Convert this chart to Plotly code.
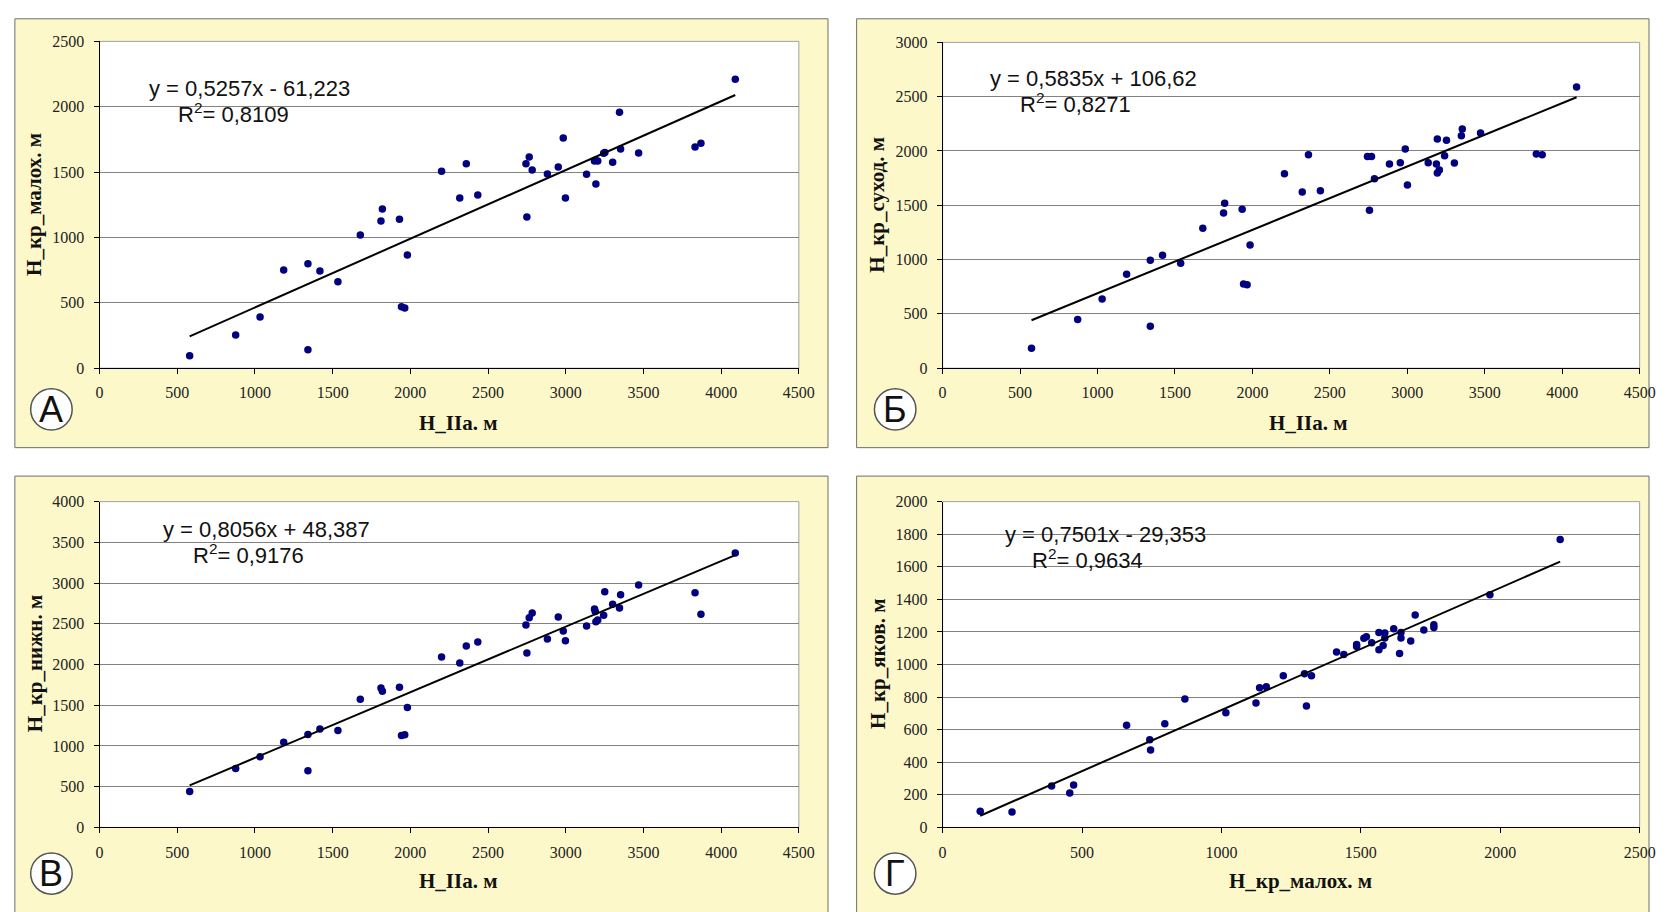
import plotly.graph_objects as go

# ---------------- data ----------------
# Panel А: H_IIa (x) vs H_кр_малох (y)
x_A = [580, 876, 1033, 1185, 1341, 1341, 1418, 1534, 1678, 1811, 1820, 1930, 1943, 1964, 1981, 2201,
       2318, 2360, 2434, 2744, 2765, 2784, 2750, 2882, 2952, 2984, 2998, 3134, 3185, 3190, 3206, 3194,
       3244, 3252, 3302, 3346, 3353, 3469, 3832, 3870, 4091]
y_A = [95, 254, 392, 751, 798, 140, 743, 661, 1018, 1125, 1217, 1140, 469, 461, 865, 1506,
       1302, 1564, 1324, 1564, 1616, 1516, 1157, 1486, 1539, 1761, 1302, 1484, 1584, 1590, 1584, 1409,
       1644, 1650, 1576, 1958, 1676, 1646, 1691, 1721, 2210]

# Panel Б: H_IIa (x) vs H_кр_суход (y)
x_B = [574, 872, 1030, 1188, 1341, 1341, 1420, 1537, 1680, 1814, 1821, 1934, 1943, 1966, 1985, 2207,
       2322, 2362, 2439, 2743, 2769, 2756, 2788, 2885, 2955, 2987, 3001, 3135, 3194, 3188, 3194, 3207,
       3241, 3253, 3304, 3349, 3355, 3473, 3833, 3871, 4093]
y_B = [184, 449, 636, 864, 994, 386, 1039, 967, 1289, 1428, 1518, 1464, 774, 768, 1133, 1789,
       1623, 1964, 1633, 1949, 1949, 1455, 1744, 1879, 1892, 2018, 1687, 1892, 2111, 1879, 1798, 1825,
       1955, 2099, 1889, 2139, 2202, 2166, 1973, 1964, 2590]

# Panel В: H_IIa (x) vs H_кр_нижн (y)
x_V = [580, 876, 1033, 1185, 1341, 1341, 1418, 1534, 1678, 1811, 1820, 1930, 1943, 1964, 1981, 2201,
       2318, 2360, 2434, 2744, 2765, 2784, 2750, 2882, 2952, 2984, 2998, 3134, 3185, 3190, 3194, 3206,
       3244, 3251, 3302, 3346, 3353, 3469, 3832, 3870, 4091]
y_V = [442, 724, 869, 1046, 1142, 696, 1207, 1190, 1573, 1713, 1673, 1721, 1130, 1138, 1472, 2091,
       2019, 2228, 2276, 2486, 2574, 2634, 2140, 2313, 2582, 2413, 2293, 2474, 2683, 2650, 2526, 2546,
       2606, 2892, 2739, 2695, 2856, 2976, 2880, 2618, 3370]

# Panel Г: H_кр_малох (x) vs H_кр_яков (y)
x_G = [135, 249, 391, 456, 470, 660, 743, 746, 797, 869, 1016, 1124, 1137, 1161, 1222, 1298,
       1323, 1305, 1413, 1439, 1485, 1485, 1511, 1520, 1539, 1565, 1565, 1580, 1586, 1586, 1618,
       1644, 1644, 1639, 1679, 1695, 1726, 1762, 1762, 1963, 2215]
y_G = [100, 94, 255, 211, 261, 628, 538, 475, 636, 788, 704, 764, 857, 863, 931, 943,
       931, 746, 1077, 1061, 1111, 1123, 1161, 1170, 1133, 1196, 1091, 1117, 1194, 1163, 1220,
       1196, 1163, 1067, 1145, 1304, 1212, 1244, 1228, 1428, 1767]

slopes = [0.5257, 0.5835, 0.8056, 0.7501]
intercepts = [-61.223, 106.62, 48.387, -29.353]
equations = ["y = 0,5257x - 61,223", "y = 0,5835x + 106,62", "y = 0,8056x + 48,387", "y = 0,7501x - 29,353"]
r2_labels = ["R<sup>2</sup>= 0,8109", "R<sup>2</sup>= 0,8271", "R<sup>2</sup>= 0,9176", "R<sup>2</sup>= 0,9634"]
x_titles = ["H_IIa. м", "H_IIa. м", "H_IIa. м", "H_кр_малох. м"]
y_titles = ["H_кр_малох. м", "H_кр_суход. м", "H_кр_нижн. м", "H_кр_яков. м"]
panel_letters = ["А", "Б", "В", "Г"]
x_ranges = [4500, 4500, 4500, 2500]
y_ranges = [2500, 3000, 4000, 2000]
y_dticks = [500, 500, 500, 200]

# ---------------- layout helpers ----------------
W, H = 1666, 912
def px(x):
    return x / W
def py(y):
    return 1 - y / H

# plot-area pixel boxes (left, right, top, bottom)
plot_boxes = [(96.7, 804.5, 34, 367), (950, 1655.5, 35, 367),
              (96.7, 804.5, 503, 835), (950, 1655.5, 503, 835)]
panel_boxes = [(11, 11, 834, 448), (863, 11, 1665, 448),
               (11, 477, 834, 930), (863, 477, 1665, 930)]
eq_pos = [(145, 82, 174, 107), (996, 72, 1026, 97),
          (159, 531, 189, 556), (1011, 536, 1038, 561)]
xtitle_pos = [(460, 423), (1320, 423), (460, 890), (1312, 890)]
ytitle_pos = [(31, 200), (884, 200), (31, 668), (884, 668)]
circle_pos = [(48, 409), (902, 409), (48, 882), (902, 882)]

xs = [x_A, x_B, x_V, x_G]
ys = [y_A, y_B, y_V, y_G]

fig = go.Figure()
shapes = []
annotations = []
layout_axes = {}

tick_font = dict(family="Liberation Serif", size=16, color="#222")

for i in range(4):
    l, r, t, b = plot_boxes[i]
    sfx = "" if i == 0 else str(i + 1)
    xa, ya = "x" + sfx, "y" + sfx
    layout_axes["xaxis" + sfx] = dict(
        domain=[px(l), px(r)], range=[0, x_ranges[i]], anchor=ya, dtick=500, tick0=0,
        showgrid=False, zeroline=False, showline=True, linecolor="#000", linewidth=1,
        ticks="outside", ticklen=5, tickcolor="#000", tickformat="d", ticklabelstandoff=5,
        tickfont=tick_font, fixedrange=True)
    layout_axes["yaxis" + sfx] = dict(
        domain=[py(b), py(t)], range=[0, y_ranges[i]], anchor=xa, dtick=y_dticks[i], tick0=0,
        showgrid=True, gridcolor="#828282", gridwidth=1.2, zeroline=False, showline=True,
        linecolor="#000", linewidth=1, ticks="outside", ticklen=5, tickcolor="#000", tickformat="d",
        ticklabelstandoff=6, tickfont=tick_font, fixedrange=True)

    fig.add_trace(go.Scatter(x=xs[i], y=ys[i], mode="markers", xaxis=xa, yaxis=ya,
                             marker=dict(color="#000080", size=7.5), showlegend=False, hoverinfo="x+y"))
    xmin, xmax = min(xs[i]), max(xs[i])
    fig.add_trace(go.Scatter(x=[xmin, xmax], y=[slopes[i] * xmin + intercepts[i], slopes[i] * xmax + intercepts[i]],
                             mode="lines", xaxis=xa, yaxis=ya, line=dict(color="#000", width=2),
                             showlegend=False, hoverinfo="skip"))

    # yellow panel background
    x0, y0, x1, y1 = panel_boxes[i]
    shapes.append(dict(type="rect", xref="paper", yref="paper", x0=px(x0), x1=px(x1), y0=py(y1), y1=py(y0),
                       fillcolor="#FDF8C9", line=dict(color="#6e6e6e", width=1), layer="below"))
    # white plot area
    shapes.append(dict(type="rect", xref="paper", yref="paper", x0=px(l), x1=px(r), y0=py(b), y1=py(t),
                       fillcolor="#FFFFFF", line=dict(color="#a0a0a0", width=1), layer="below"))
    # circle label
    cx, cy = circle_pos[i]
    shapes.append(dict(type="circle", xref="paper", yref="paper", x0=px(cx - 21), x1=px(cx + 21),
                       y0=py(cy + 21), y1=py(cy - 21), fillcolor="#FFFFFF", line=dict(color="#555", width=1.5)))
    annotations.append(dict(x=px(cx), y=py(cy), xref="paper", yref="paper", text=panel_letters[i],
                            showarrow=False, xanchor="center", yanchor="middle",
                            font=dict(family="Liberation Sans", size=36, color="#111")))
    # equation and R2
    ex, ey, rx, ry = eq_pos[i]
    annotations.append(dict(x=px(ex), y=py(ey), xref="paper", yref="paper", text=equations[i],
                            showarrow=False, xanchor="left", yanchor="middle",
                            font=dict(family="Liberation Sans", size=22, color="#111")))
    annotations.append(dict(x=px(rx), y=py(ry), xref="paper", yref="paper", text=r2_labels[i],
                            showarrow=False, xanchor="left", yanchor="middle",
                            font=dict(family="Liberation Sans", size=22, color="#111")))
    # axis titles
    tx, ty = xtitle_pos[i]
    annotations.append(dict(x=px(tx), y=py(ty), xref="paper", yref="paper", text="<b>" + x_titles[i] + "</b>",
                            showarrow=False, xanchor="center", yanchor="middle",
                            font=dict(family="Liberation Serif", size=21, color="#111")))
    tx, ty = ytitle_pos[i]
    annotations.append(dict(x=px(tx), y=py(ty), xref="paper", yref="paper", text="<b>" + y_titles[i] + "</b>",
                            showarrow=False, xanchor="center", yanchor="middle", textangle=-90,
                            font=dict(family="Liberation Serif", size=21, color="#111")))

fig.update_layout(width=W, height=H, margin=dict(l=0, r=0, t=0, b=0),
                  paper_bgcolor="#FFFFFF", plot_bgcolor="rgba(0,0,0,0)",
                  shapes=shapes, annotations=annotations, showlegend=False, **layout_axes)

fig.write_html("out.html", post_script="document.body.style.margin='0';document.body.style.overflow='hidden';",
               config={"displayModeBar": False})
